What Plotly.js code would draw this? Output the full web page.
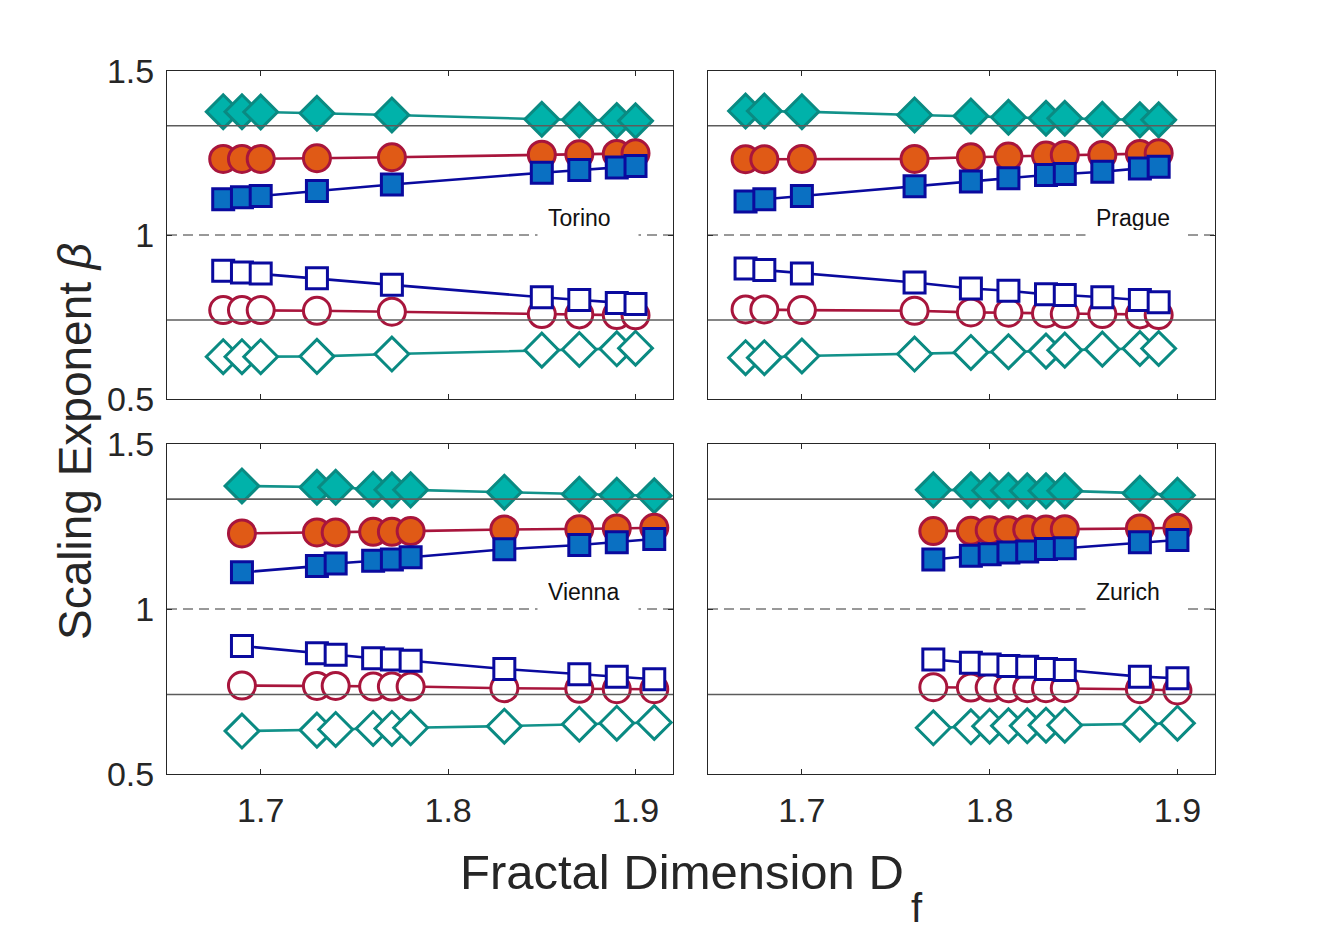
<!DOCTYPE html>
<html>
<head>
<meta charset="utf-8">
<script src="https://cdn.plot.ly/plotly-3.0.1.min.js"></script>
<style>html,body{margin:0;padding:0;background:#fff;}#chart{width:1343px;height:932px;}</style>
</head>
<body>
<div id="chart"></div>
<script>
// ---------------- data ----------------
const cityNames = ['Torino', 'Prague', 'Vienna', 'Zurich'];

const torinoDf = [1.68, 1.69, 1.70, 1.73, 1.77, 1.85, 1.87, 1.89, 1.90];
const torinoUpperDiamond = [1.376, 1.376, 1.375, 1.371, 1.366, 1.353, 1.351, 1.349, 1.348];
const torinoUpperCircle  = [1.232, 1.232, 1.232, 1.234, 1.237, 1.245, 1.246, 1.247, 1.249];
const torinoUpperSquare  = [1.109, 1.115, 1.119, 1.134, 1.154, 1.190, 1.198, 1.206, 1.210];
const torinoLowerSquare  = [0.891, 0.886, 0.883, 0.868, 0.848, 0.810, 0.802, 0.793, 0.790];
const torinoLowerCircle  = [0.771, 0.771, 0.771, 0.769, 0.766, 0.759, 0.758, 0.756, 0.755];
const torinoLowerDiamond = [0.629, 0.629, 0.629, 0.630, 0.637, 0.649, 0.651, 0.653, 0.655];

const pragueDf = [1.67, 1.68, 1.70, 1.76, 1.79, 1.81, 1.83, 1.84, 1.86, 1.88, 1.89];
const pragueUpperDiamond = [1.378, 1.378, 1.376, 1.366, 1.363, 1.359, 1.356, 1.356, 1.353, 1.351, 1.351];
const pragueUpperCircle  = [1.231, 1.231, 1.232, 1.232, 1.237, 1.239, 1.242, 1.244, 1.244, 1.247, 1.249];
const pragueUpperSquare  = [1.102, 1.109, 1.119, 1.149, 1.163, 1.173, 1.183, 1.186, 1.193, 1.203, 1.208];
const pragueLowerSquare  = [0.898, 0.893, 0.883, 0.855, 0.837, 0.830, 0.819, 0.817, 0.810, 0.802, 0.795];
const pragueLowerCircle  = [0.773, 0.773, 0.771, 0.769, 0.764, 0.763, 0.761, 0.759, 0.759, 0.758, 0.756];
const pragueLowerDiamond = [0.626, 0.626, 0.631, 0.637, 0.642, 0.644, 0.646, 0.649, 0.652, 0.654, 0.654];

const viennaDf = [1.69, 1.73, 1.74, 1.76, 1.77, 1.78, 1.83, 1.87, 1.89, 1.91];
const viennaUpperDiamond = [1.373, 1.369, 1.369, 1.363, 1.361, 1.361, 1.354, 1.348, 1.345, 1.343];
const viennaUpperCircle  = [1.229, 1.232, 1.232, 1.234, 1.234, 1.236, 1.241, 1.242, 1.244, 1.246];
const viennaUpperSquare  = [1.111, 1.130, 1.138, 1.146, 1.150, 1.157, 1.181, 1.194, 1.202, 1.212];
const viennaLowerSquare  = [0.888, 0.866, 0.861, 0.851, 0.847, 0.843, 0.818, 0.802, 0.795, 0.787];
const viennaLowerCircle  = [0.768, 0.767, 0.767, 0.765, 0.765, 0.765, 0.760, 0.758, 0.757, 0.757];
const viennaLowerDiamond = [0.630, 0.633, 0.635, 0.638, 0.638, 0.640, 0.645, 0.651, 0.654, 0.656];

const zurichDf = [1.77, 1.79, 1.80, 1.81, 1.82, 1.83, 1.84, 1.88, 1.90];
const zurichUpperDiamond = [1.361, 1.361, 1.359, 1.359, 1.358, 1.358, 1.358, 1.351, 1.345];
const zurichUpperCircle  = [1.236, 1.237, 1.239, 1.239, 1.241, 1.241, 1.242, 1.244, 1.246];
const zurichUpperSquare  = [1.150, 1.161, 1.166, 1.171, 1.174, 1.182, 1.184, 1.202, 1.209];
const zurichLowerSquare  = [0.847, 0.837, 0.832, 0.827, 0.825, 0.818, 0.815, 0.795, 0.790];
const zurichLowerCircle  = [0.763, 0.762, 0.762, 0.760, 0.760, 0.760, 0.760, 0.757, 0.753];
const zurichLowerDiamond = [0.640, 0.643, 0.645, 0.646, 0.646, 0.648, 0.648, 0.651, 0.654];

const referenceLevels = [1.333, 0.741];
const dashedLevel = 1;
const xTickValues = [1.7, 1.8, 1.9];
const xTickLabels = ['1.7', '1.8', '1.9'];
const yTickValues = [0.5, 1, 1.5];
const yTickLabels = ['0.5', '1', '1.5'];

// ---------------- styles ----------------
const FONT = 'Liberation Sans, Arial, Helvetica, sans-serif';
const TEAL_FILL = '#00b2aa', TEAL_EDGE = '#0a8a82', TEAL_LINE = '#12928a';
const ORANGE_FILL = '#e05a16', RED_EDGE = '#a8153c', RED_LINE = '#a8153c';
const BLUE_FILL = '#0a70c2', NAVY_EDGE = '#0a0a9e', NAVY_LINE = '#0a0a9e';

const panels = [
  {name: cityNames[0], x: torinoDf, ud: torinoUpperDiamond, uc: torinoUpperCircle, us: torinoUpperSquare, ls: torinoLowerSquare, lc: torinoLowerCircle, ld: torinoLowerDiamond},
  {name: cityNames[1], x: pragueDf, ud: pragueUpperDiamond, uc: pragueUpperCircle, us: pragueUpperSquare, ls: pragueLowerSquare, lc: pragueLowerCircle, ld: pragueLowerDiamond},
  {name: cityNames[2], x: viennaDf, ud: viennaUpperDiamond, uc: viennaUpperCircle, us: viennaUpperSquare, ls: viennaLowerSquare, lc: viennaLowerCircle, ld: viennaLowerDiamond},
  {name: cityNames[3], x: zurichDf, ud: zurichUpperDiamond, uc: zurichUpperCircle, us: zurichUpperSquare, ls: zurichLowerSquare, lc: zurichLowerCircle, ld: zurichLowerDiamond}
];

function series(x, y, idx, symbol, size, fill, edge, lineColor) {
  const s = idx === 1 ? '' : String(idx);
  return {
    type: 'scatter', mode: 'lines+markers', x: x, y: y,
    xaxis: 'x' + s, yaxis: 'y' + s, showlegend: false, hoverinfo: 'x+y',
    line: {color: lineColor, width: 2.6},
    marker: {symbol: symbol, size: size, color: fill, line: {color: edge, width: 3}}
  };
}

const traces = [];
panels.forEach((p, i) => {
  const idx = i + 1;
  traces.push(series(p.x, p.ld, idx, 'diamond', 26, '#ffffff', TEAL_EDGE, TEAL_LINE));
  traces.push(series(p.x, p.lc, idx, 'circle', 27, '#ffffff', RED_EDGE, RED_LINE));
  traces.push(series(p.x, p.ls, idx, 'square', 21, '#ffffff', NAVY_EDGE, NAVY_LINE));
  traces.push(series(p.x, p.ud, idx, 'diamond', 26, TEAL_FILL, TEAL_EDGE, TEAL_LINE));
  traces.push(series(p.x, p.uc, idx, 'circle', 27, ORANGE_FILL, RED_EDGE, RED_LINE));
  traces.push(series(p.x, p.us, idx, 'square', 21, BLUE_FILL, NAVY_EDGE, NAVY_LINE));
});

// panel geometry (paper fractions)
const W = 1343, H = 932;
const colDomains = [[167 / W, 673 / W], [708 / W, 1215 / W]];
const rowDomains = [[1 - 399 / H, 1 - 71 / H], [1 - 774 / H, 1 - 444 / H]];

const layout = {
  width: W, height: H,
  margin: {l: 0, r: 0, t: 0, b: 0},
  paper_bgcolor: '#ffffff', plot_bgcolor: '#ffffff',
  font: {family: FONT, color: '#262626'},
  showlegend: false,
  shapes: [], annotations: []
};

panels.forEach((p, i) => {
  const idx = i + 1;
  const s = idx === 1 ? '' : String(idx);
  const col = i % 2, row = Math.floor(i / 2);
  layout['xaxis' + s] = {
    domain: colDomains[col], anchor: 'y' + s, range: [1.65, 1.92],
    tickmode: 'array', tickvals: xTickValues, ticktext: xTickLabels,
    showticklabels: row === 1, ticks: 'inside', ticklen: 5, tickwidth: 1, tickcolor: '#262626',
    showline: true, linecolor: '#262626', linewidth: 1, mirror: 'ticks',
    showgrid: false, zeroline: false, ticklabelstandoff: 6,
    tickfont: {family: FONT, size: 34, color: '#262626'}
  };
  layout['yaxis' + s] = {
    domain: rowDomains[row], anchor: 'x' + s, range: [0.5, 1.5],
    tickmode: 'array', tickvals: yTickValues, ticktext: yTickLabels,
    showticklabels: col === 0, ticks: 'inside', ticklen: 5, tickwidth: 1, tickcolor: '#262626',
    showline: true, linecolor: '#262626', linewidth: 1, mirror: 'ticks',
    showgrid: false, zeroline: false, ticklabelstandoff: 5,
    tickfont: {family: FONT, size: 34, color: '#262626'}
  };
  referenceLevels.forEach(v => {
    layout.shapes.push({type: 'line', xref: 'x' + s + ' domain', yref: 'y' + s, x0: 0, x1: 1, y0: v, y1: v,
      line: {color: '#5c5c5c', width: 1.6}, layer: 'above'});
  });
  layout.shapes.push({type: 'line', xref: 'x' + s + ' domain', yref: 'y' + s, x0: 0, x1: 1, y0: dashedLevel, y1: dashedLevel,
    line: {color: '#333333', width: 1, dash: '10px,6px'}, layer: 'above'});
  layout.annotations.push({
    xref: 'x' + s, yref: 'y' + s, x: col === 0 ? 1.8744 : 1.878, y: 1.053,
    text: p.name, showarrow: false, align: 'left', width: 80, height: 25,
    bgcolor: '#ffffff', borderpad: 10, xanchor: 'center', yanchor: 'middle',
    font: {family: FONT, size: 23, color: '#111111'}
  });
});

layout.annotations.push({
  xref: 'paper', yref: 'paper', x: 75 / W, y: 1 - 442 / H, textangle: -90,
  text: 'Scaling Exponent <i>β</i>', showarrow: false, xanchor: 'center', yanchor: 'middle',
  font: {family: FONT, size: 46, color: '#262626'}
});
layout.annotations.push({
  xref: 'paper', yref: 'paper', x: 682 / W, y: 1 - 872 / H,
  text: 'Fractal Dimension D', showarrow: false, xanchor: 'center', yanchor: 'middle',
  font: {family: FONT, size: 49, color: '#262626'}
});
layout.annotations.push({
  xref: 'paper', yref: 'paper', x: 917 / W, y: 1 - 908 / H,
  text: 'f', showarrow: false, xanchor: 'center', yanchor: 'middle',
  font: {family: FONT, size: 40, color: '#262626'}
});

Plotly.newPlot('chart', traces, layout, {displayModeBar: false, staticPlot: true});
</script>
</body>
</html>
